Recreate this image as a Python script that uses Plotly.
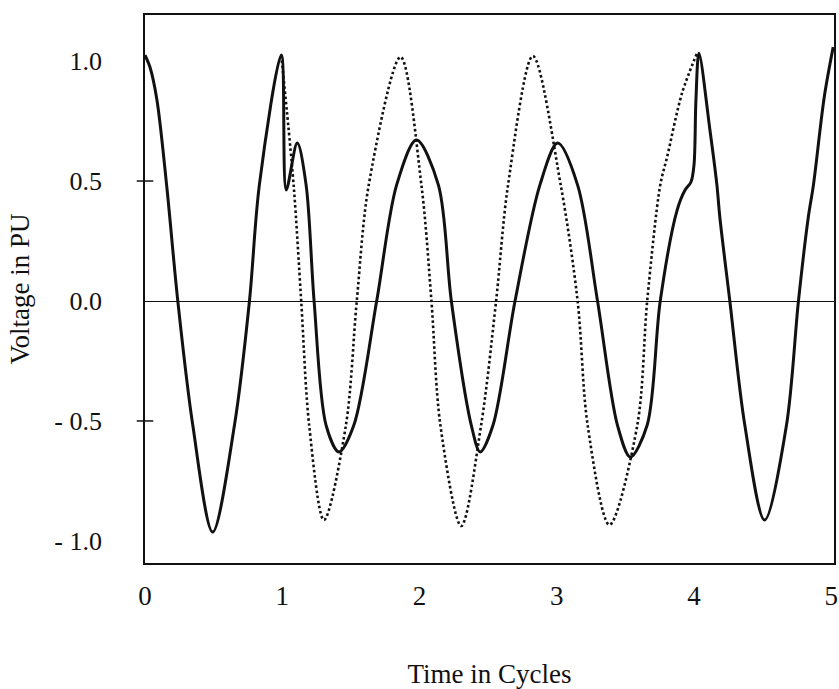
import plotly.graph_objects as go

# Time in cycles / voltage in PU
solid_t = [0.000, 0.036, 0.087, 0.159, 0.239, 0.348, 0.493,
           0.652, 0.761, 0.833, 0.993, 1.029,
           1.109, 1.174, 1.232, 1.319, 1.413, 1.522, 1.688, 1.833, 1.978, 2.138,
           2.232, 2.377, 2.442, 2.536, 2.696, 2.877, 3.007, 3.152, 3.297, 3.442,
           3.536, 3.659, 3.754, 3.877, 3.935, 3.978, 4.000, 4.014, 4.036, 4.116,
           4.167, 4.188, 4.261, 4.370, 4.514, 4.674, 4.761, 4.833, 4.870, 4.949,
           5.014]
solid_v = [1.025, 0.975, 0.838, 0.475, 0.0, -0.517, -0.963,
           -0.517, 0.0, 0.483, 1.025, 0.463,
           0.658, 0.483, 0.0, -0.517, -0.629, -0.517, 0.0, 0.483, 0.671, 0.483,
           0.0, -0.517, -0.629, -0.517, 0.0, 0.483, 0.658, 0.483, 0.0, -0.517,
           -0.650, -0.517, 0.0, 0.379, 0.463, 0.496, 0.567, 0.838, 1.033, 0.713,
           0.483, 0.350, 0.0, -0.517, -0.913, -0.517, 0.0, 0.350, 0.483, 0.850,
           1.058]

dot_t = [0.993, 1.083, 1.138, 1.196, 1.304, 1.464, 1.543, 1.630, 1.862, 2.014,
         2.087, 2.152, 2.304, 2.449, 2.558, 2.645, 2.826, 3.029, 3.152, 3.225,
         3.384, 3.587, 3.659, 3.754, 3.804, 3.913, 4.022]
dot_v = [1.025, 0.483, 0.0, -0.517, -0.913, -0.517, 0.0, 0.483, 1.017, 0.483,
         0.0, -0.517, -0.938, -0.517, 0.0, 0.483, 1.021, 0.483, 0.0, -0.517,
         -0.933, -0.517, 0.0, 0.483, 0.600, 0.867, 1.033]

x_ticks = [0, 1, 2, 3, 4, 5]
x_ticktext = ["0", "1", "2", "3", "4", "5"]
y_ticks = [1.0, 0.5, 0.0, -0.5, -1.0]
y_ticktext = ["1.0", "0.5", "0.0", "- 0.5", "- 1.0"]
y_tickmarks = [0.5, -0.5]

FONT = "Liberation Serif, Times New Roman, serif"
INK = "#111111"

fig = go.Figure()
fig.add_trace(go.Scatter(
    x=dot_t, y=dot_v, mode="lines",
    line=dict(color=INK, width=2.6, dash="2.6px,2.6px", shape="spline", smoothing=0.9),
    hoverinfo="skip", showlegend=False))
fig.add_trace(go.Scatter(
    x=solid_t, y=solid_v, mode="lines",
    line=dict(color=INK, width=3, shape="spline", smoothing=0.9),
    hoverinfo="skip", showlegend=False))

for yv in y_tickmarks:
    fig.add_shape(type="line", xref="x domain", yref="y",
                  x0=-0.012, x1=0.012, y0=yv, y1=yv,
                  line=dict(color=INK, width=1.5))

fig.update_layout(
    width=839, height=689,
    margin=dict(l=145, r=1, t=15, b=126),
    paper_bgcolor="white", plot_bgcolor="white",
    font=dict(family=FONT, color=INK, size=26),
    showlegend=False,
)
fig.update_xaxes(
    range=[0, 5.02], tickvals=x_ticks, ticktext=x_ticktext,
    showgrid=False, zeroline=False, ticks="",
    showline=True, linecolor=INK, linewidth=1.6, mirror=True,
    tickfont=dict(family=FONT, size=27, color=INK),
    ticklabelstandoff=8, ticklabeloverflow="allow",
    title=dict(text="Time in Cycles", font=dict(family=FONT, size=27, color=INK), standoff=54),
)
fig.update_yaxes(
    range=[-1.092, 1.192], tickvals=y_ticks, ticktext=y_ticktext,
    showgrid=False, zeroline=True, zerolinecolor=INK, zerolinewidth=1.3,
    ticks="", showline=True, linecolor=INK, linewidth=1.6, mirror=True,
    tickfont=dict(family=FONT, size=26, color=INK),
    ticklabelstandoff=36,
    title=dict(text="Voltage in PU", font=dict(family=FONT, size=27, color=INK), standoff=17),
)

fig.write_html("out.html")
